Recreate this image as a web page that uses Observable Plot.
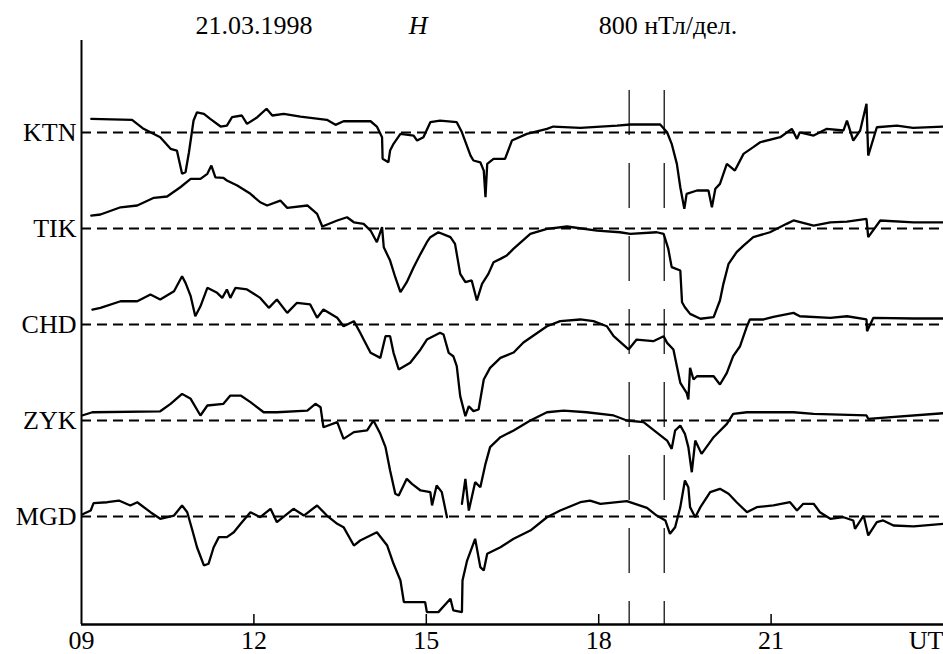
<!DOCTYPE html>
<html><head><meta charset="utf-8">
<script src="https://cdn.jsdelivr.net/npm/d3@7"></script>
<script src="https://cdn.jsdelivr.net/npm/@observablehq/plot@0.6"></script>
<style>
body{margin:0;background:#fff}
svg text{font-family:"Liberation Serif","Tinos","Nimbus Roman","Times New Roman","DejaVu Serif",serif !important;}
</style>
</head><body><div id="chart"></div>
<script>
// Stations and scale
const stations = ["KTN", "TIK", "CHD", "ZYK", "MGD"];
const division = 800; // нТл per division

// Header labels
const headerTexts = ["21.03.1998", "H", "800 нТл/дел."];
const headerTimes = [12, 14.86, 18];

// Time axis
const tickTimes = [9, 12, 15, 18, 21];
const tickLabels = ["09", "12", "15", "18", "21"];
const unitLabel = "UT";
const markerTimes = [18.53, 19.14];

// KTN
const KTN_t = [9.17, 9.88, 10.08, 10.37, 10.55, 10.66, 10.75, 10.81, 10.87, 10.95, 11.01, 11.13, 11.24, 11.42, 11.53, 11.62, 11.79, 11.88, 12.06, 12.22, 12.32, 12.52, 12.81, 13.27, 13.42, 13.56, 14.03, 14.14, 14.23, 14.24, 14.34, 14.37, 14.43, 14.55, 14.78, 14.84, 14.95, 15.07, 15.24, 15.53, 15.62, 15.77, 15.82, 15.94, 16.00, 16.03, 16.06, 16.17, 16.29, 16.37, 16.49, 16.75, 17.10, 17.21, 17.68, 18.32, 18.55, 19.07, 19.19, 19.27, 19.36, 19.42, 19.49, 19.53, 19.71, 19.91, 19.97, 20.03, 20.11, 20.23, 20.37, 20.52, 20.69, 20.81, 21.16, 21.36, 21.45, 21.50, 21.74, 21.97, 22.26, 22.32, 22.43, 22.55, 22.66, 22.69, 22.84, 23.19, 23.47, 24.00];
const KTN_v = [114, 106, 31, -39, -136, -150, -344, -331, -164, 100, 169, 156, 114, 50, 58, 128, 142, 72, 128, 198, 142, 156, 133, 106, 64, 94, 94, 50, -39, -219, -248, -150, -94, -11, -25, -67, -39, 86, 100, 86, 2, -192, -233, -248, -317, -539, -261, -219, -219, -219, -67, -11, 31, 50, 39, 58, 67, 67, 2, -94, -261, -456, -636, -511, -483, -483, -622, -469, -428, -261, -317, -178, -122, -81, -39, 31, -53, 2, -25, 31, 17, 100, -67, 17, 239, -192, 44, 58, 39, 50];

// TIK
const TIK_t = [9.17, 9.33, 9.68, 9.97, 10.26, 10.49, 10.72, 10.90, 11.07, 11.19, 11.26, 11.33, 11.47, 11.53, 11.71, 11.94, 12.11, 12.23, 12.46, 12.58, 12.93, 13.10, 13.19, 13.45, 13.62, 13.74, 13.91, 14.03, 14.14, 14.23, 14.26, 14.37, 14.46, 14.55, 14.66, 14.78, 14.90, 15.01, 15.07, 15.21, 15.42, 15.50, 15.59, 15.68, 15.79, 15.88, 15.97, 16.08, 16.17, 16.29, 16.40, 16.52, 16.81, 17.10, 17.45, 17.97, 18.37, 18.55, 19.01, 19.13, 19.21, 19.27, 19.42, 19.45, 19.50, 19.59, 19.77, 20.00, 20.11, 20.17, 20.26, 20.40, 20.52, 20.69, 20.98, 21.27, 21.39, 21.74, 22.03, 22.32, 22.66, 22.69, 22.90, 23.48, 24.00];
const TIK_v = [108, 117, 177, 192, 256, 267, 344, 414, 414, 456, 525, 427, 422, 400, 358, 289, 219, 192, 233, 172, 192, 122, 17, 67, 94, 52, 39, -17, -114, 11, -156, -267, -406, -531, -447, -322, -211, -114, -72, -31, -72, -128, -378, -447, -433, -600, -461, -378, -281, -253, -225, -167, -44, -3, 17, -17, -31, -44, -31, -44, -167, -322, -350, -614, -656, -711, -752, -739, -600, -461, -294, -197, -142, -72, -31, 39, 67, 25, 52, 58, 81, -72, 67, 52, 52];

// CHD
const CHD_t = [9.19, 9.33, 9.68, 9.97, 10.20, 10.37, 10.61, 10.75, 10.81, 10.90, 10.98, 11.07, 11.19, 11.36, 11.45, 11.53, 11.59, 11.68, 11.88, 12.11, 12.26, 12.40, 12.58, 12.75, 12.98, 13.10, 13.21, 13.45, 13.56, 13.74, 13.85, 13.91, 14.03, 14.20, 14.29, 14.37, 14.43, 14.52, 14.72, 14.90, 15.01, 15.24, 15.30, 15.39, 15.47, 15.53, 15.59, 15.68, 15.74, 15.82, 15.91, 16.00, 16.11, 16.29, 16.52, 16.69, 17.10, 17.33, 17.68, 17.91, 18.14, 18.26, 18.52, 18.66, 18.95, 19.13, 19.19, 19.30, 19.42, 19.53, 19.56, 19.59, 19.65, 19.71, 20.00, 20.11, 20.23, 20.34, 20.46, 20.58, 20.63, 20.87, 21.04, 21.39, 21.50, 22.03, 22.32, 22.66, 22.67, 22.78, 23.48, 24.00];
const CHD_v = [125, 139, 194, 194, 250, 208, 277, 402, 347, 236, 69, 152, 306, 264, 222, 292, 222, 306, 292, 222, 139, 208, 97, 181, 167, 56, 125, 56, -14, 28, -69, -125, -236, -278, -97, -97, -236, -375, -319, -208, -125, -69, -83, -236, -264, -347, -597, -764, -681, -722, -708, -458, -361, -278, -233, -150, -14, 28, 42, 28, -14, -97, -208, -125, -139, -97, -153, -208, -486, -569, -625, -361, -458, -431, -431, -500, -403, -264, -181, -14, 42, 42, 64, 97, 69, 56, 69, 42, -56, 56, 50, 50];

// ZYK (null = gap in record)
const ZYK_t = [9.01, 9.19, 10.37, 10.55, 10.75, 10.90, 11.07, 11.19, 11.47, 11.59, 11.77, 11.94, 12.17, 12.40, 12.93, 13.07, 13.16, 13.21, 13.45, 13.56, 13.74, 13.97, 14.08, 14.20, 14.29, 14.37, 14.46, 14.52, 14.66, 14.75, 14.90, 15.07, 15.10, 15.18, 15.27, 15.36, 15.50, 15.62, 15.68, 15.74, 15.85, 15.94, 16.03, 16.11, 16.29, 16.52, 16.81, 17.10, 17.39, 17.79, 18.26, 18.49, 18.78, 19.19, 19.27, 19.33, 19.42, 19.50, 19.56, 19.62, 19.68, 19.79, 20.00, 20.23, 20.34, 20.58, 21.39, 21.74, 22.66, 22.69, 24.00];
const ZYK_v = [42, 69, 77, 139, 222, 181, 42, 125, 139, 208, 208, 153, 69, 69, 83, 139, 111, -56, -14, -153, -97, -83, 0, -111, -222, -417, -611, -625, -486, -528, -583, -597, -708, -542, -597, -806, null, -694, -486, -750, -514, -556, -361, -222, -139, -83, 0, 69, 83, 69, 42, 0, -14, -167, -236, -83, -42, -111, -222, -431, -167, -278, -139, -28, 56, 69, 69, 56, 42, 14, 61];

// MGD
const MGD_t = [9.01, 9.16, 9.21, 9.45, 9.65, 9.85, 9.97, 10.20, 10.37, 10.61, 10.75, 10.84, 10.93, 11.01, 11.13, 11.21, 11.30, 11.39, 11.53, 11.65, 11.77, 11.94, 12.11, 12.29, 12.40, 12.58, 12.69, 12.87, 13.10, 13.27, 13.45, 13.56, 13.74, 13.85, 14.14, 14.32, 14.43, 14.55, 14.61, 14.98, 15.01, 15.21, 15.42, 15.47, 15.62, 15.63, 15.71, 15.85, 15.94, 16.00, 16.06, 16.29, 16.52, 16.81, 17.10, 17.33, 17.68, 17.85, 18.03, 18.49, 18.84, 19.01, 19.16, 19.24, 19.33, 19.42, 19.50, 19.56, 19.59, 19.68, 19.77, 19.94, 20.11, 20.26, 20.40, 20.58, 20.75, 21.04, 21.33, 21.45, 21.56, 21.74, 21.85, 22.03, 22.26, 22.43, 22.46, 22.61, 22.69, 22.84, 22.95, 23.13, 23.48, 24.00];
const MGD_v = [17, 50, 111, 119, 133, 92, 119, 36, -19, 8, 92, 36, -117, -256, -408, -394, -256, -172, -172, -131, -61, 36, -6, 64, -47, 22, 64, 8, 92, 8, -61, -89, -242, -200, -131, -242, -394, -533, -714, -714, -797, -797, -686, -783, -797, -533, -367, -186, -422, -450, -311, -256, -186, -117, -6, 50, 119, 133, 106, 128, 72, 8, -33, -144, -89, 78, 300, 244, 78, -6, 78, 203, 231, 189, 119, 36, 78, 92, 119, 50, 106, 106, 36, -19, -6, -33, -103, 8, -158, -47, -33, -75, -83, -61];

const times = [KTN_t, TIK_t, CHD_t, ZYK_t, MGD_t];
const values = [KTN_v, TIK_v, CHD_v, ZYK_v, MGD_v];

const rows = stations.flatMap((s, i) => times[i].map((t, j) => ({
  station: s, t, v: values[i][j] == null ? NaN : values[i][j] - i * division
})));
const baselines = stations.map((s, i) => ({station: s, y: -i * division}));
const header = headerTexts.map((text, i) => ({text, t: headerTimes[i]}));
const ticks = tickLabels.map((text, i) => ({text, t: tickTimes[i]}));

const font = "Liberation Serif";
const fs = 26;
const txt = {fontSize: fs, fontFamily: font, fill: "#000"};

const chart = Plot.plot({
  width: 943, height: 654,
  marginLeft: 81, marginRight: 0, marginTop: 40, marginBottom: 30,
  x: {domain: [9, 24], axis: null},
  y: {domain: [-4100, 767], axis: null},
  style: {fontFamily: font, background: "#fff", color: "#000"},
  marks: [
    Plot.ruleY(baselines, {y: "y", stroke: "#000", strokeWidth: 2, strokeDasharray: "10,6"}),
    Plot.ruleX(markerTimes, {x: d => d, insetTop: 50, stroke: "#000", strokeWidth: 1.2, strokeDasharray: "45,28"}),
    Plot.line(rows, {x: "t", y: "v", z: "station", stroke: "#000", strokeWidth: 2.3, strokeLinejoin: "miter"}),
    Plot.ruleX([9], {x: d => d, stroke: "#000", strokeWidth: 2}),
    Plot.ruleY([-4100], {y: d => d, stroke: "#000", strokeWidth: 2.5}),
    Plot.ruleX(tickTimes.slice(1), {x: d => d, insetTop: 574, stroke: "#000", strokeWidth: 1.5}),
    Plot.text(baselines, {x: 9, y: "y", text: "station", textAnchor: "end", dx: -5, ...txt}),
    Plot.text(ticks, {x: "t", text: "text", frameAnchor: "bottom", lineAnchor: "middle", dy: 16, ...txt}),
    Plot.text([unitLabel], {x: 24, text: d => d, frameAnchor: "bottom", lineAnchor: "middle", dy: 16, textAnchor: "end", ...txt}),
    Plot.text(header.slice(0, 1), {x: "t", text: "text", frameAnchor: "top", lineAnchor: "middle", dy: -15, ...txt}),
    Plot.text(header.slice(1, 2), {x: "t", text: "text", frameAnchor: "top", lineAnchor: "middle", dy: -15, fontStyle: "italic", ...txt}),
    Plot.text(header.slice(2), {x: "t", text: "text", frameAnchor: "top", lineAnchor: "middle", dy: -15, textAnchor: "start", ...txt})
  ]
});
document.getElementById("chart").appendChild(chart);
</script>
</body></html>
